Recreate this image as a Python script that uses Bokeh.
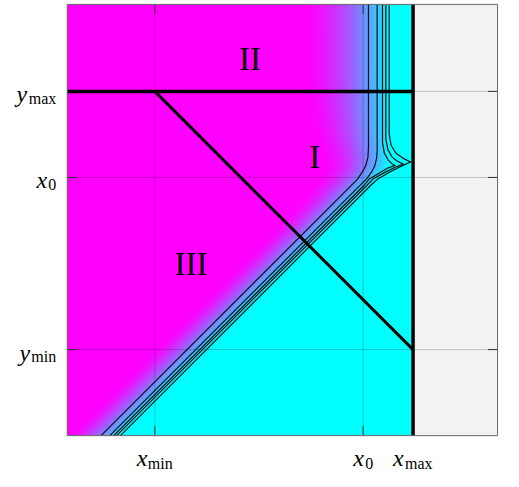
import numpy as np
from bokeh.plotting import figure
from bokeh.models import Label
from bokeh.embed import file_html
from bokeh.resources import INLINE

# ---- tick positions (data units, x0 = 0) ----
x_ticks = [-2.42, 0.0, 0.58]            # x_min, x0, x_max
x_tick_names = [("x", "min"), ("x", "0"), ("x", "max")]
y_ticks = [1.0, 0.0, -2.0]              # y_max, x0, y_min
y_tick_names = [("y", "max"), ("x", "0"), ("y", "min")]

x_min, x_0, x_max = x_ticks
y_max, _, y_min = y_ticks

# ---- plot box (data units) ----
X_LO, X_HI = -3.438, 1.562
Y_LO, Y_HI = -3.0, 2.011

# ---- contour lines ----
cA_x = [0.062, 0.062, 0.056, 0.034, 0.000, -0.067, -3.045]
cA_y = [Y_HI, 0.348, 0.236, 0.146, 0.079, -0.022, Y_LO]
cB_x = [0.163, 0.163, 0.157, 0.135, 0.101, 0.045, -2.944]
cB_y = [Y_HI, 0.315, 0.225, 0.135, 0.067, -0.011, Y_LO]
cC_x = [0.225, 0.225, 0.247, 0.292, 0.331, 0.371, 0.281, 0.180, 0.067, 0.011, -2.899]
cC_y = [Y_HI, 0.404, 0.281, 0.202, 0.163, 0.140, 0.107, 0.045, -0.022, -0.090, Y_LO]
cD_x = [0.264, 0.264, 0.287, 0.337, 0.393, 0.466, 0.371, 0.247, 0.124, 0.056, -2.865]
cD_y = [Y_HI, 0.449, 0.326, 0.236, 0.191, 0.157, 0.118, 0.056, -0.011, -0.079, Y_LO]
cE_x = [0.303, 0.303, 0.326, 0.382, 0.461, 0.551, 0.449, 0.315, 0.180, 0.101, -2.820]
cE_y = [Y_HI, 0.506, 0.371, 0.281, 0.225, 0.180, 0.135, 0.067, -0.011, -0.079, Y_LO]

# ---- region labels ----
region_names = ["II", "I", "III"]
region_x = [-1.315, -0.562, -2.0]
region_y = [1.382, 0.236, -1.0]

# ---- canvas: the whole figure is the frame, so that tick labels are not clipped ----
# 503 x 471 keeps the page (with its 8px margins) inside the 519 x 487 window
W, H = 503, 471
S = 0.967                 # overall scale so that everything fits
PX = 89.0 * S             # pixels per data unit
X0_PX, Y0_PX = S * 375, S * 183   # canvas position of the data origin
CX_LO, CX_HI = -X0_PX / PX, (W - X0_PX) / PX
CY_HI, CY_LO = Y0_PX / PX, (Y0_PX - H) / PX

p = figure(width=W, height=H, x_range=(CX_LO, CX_HI), y_range=(CY_LO, CY_HI),
           x_axis_location=None, y_axis_location=None,
           toolbar_location=None, output_backend="svg",
           min_border=0, min_border_left=0, min_border_right=0,
           min_border_top=0, min_border_bottom=0)
p.grid.visible = False
p.background_fill_color = "white"
p.border_fill_color = "white"
p.outline_line_color = None

# gray region beyond x_max
p.quad(left=[x_max], right=[X_HI], bottom=[Y_LO], top=[Y_HI],
       fill_color="#f2f2f2", line_color=None)

# ---- colour field (magenta -> cyan across the contour band) ----
nx = int(round((x_max - X_LO) * PX))
ny = int(round((Y_HI - Y_LO) * PX))
gx = X_LO + (np.arange(nx) + 0.5) * (x_max - X_LO) / nx
gy = Y_LO + (np.arange(ny) + 0.5) * (Y_HI - Y_LO) / ny
XX, YY = np.meshgrid(gx, gy)
diag_off = cE_x[-1] - cE_y[-1]
top_edge = cE_x[0]
k = 0.04
edge = -k * np.logaddexp(-(YY + diag_off) / k, -top_edge / k)
D = edge - XX
Wd = 0.62 + 0.38 / (1 + np.exp(-(YY - 0.3) / 0.25))
u = np.clip(1 - D / Wd, 0, 1)
t = u ** 1.6
img = np.empty((ny, nx), dtype=np.uint32)
view = img.view(dtype=np.uint8).reshape((ny, nx, 4))
view[:, :, 0] = np.round(255 * (1 - t)).astype(np.uint8)
view[:, :, 1] = np.round(255 * t).astype(np.uint8)
view[:, :, 2] = 255
view[:, :, 3] = 255
p.image_rgba(image=[img], x=X_LO, y=Y_LO, dw=x_max - X_LO, dh=Y_HI - Y_LO)

# ---- contour lines ----
p.multi_line(xs=[cA_x, cB_x, cC_x, cD_x, cE_x], ys=[cA_y, cB_y, cC_y, cD_y, cE_y],
             line_color="#111111", line_width=1.2, line_join="round")

# ---- gridlines (inside the box only) ----
nxt, nyt = len(x_ticks), len(y_ticks)
p.segment(x0=x_ticks, y0=[Y_LO] * nxt, x1=x_ticks, y1=[Y_HI] * nxt,
          line_color="black", line_alpha=0.2, line_width=1)
p.segment(x0=[X_LO] * nyt, y0=y_ticks, x1=[X_HI] * nyt, y1=y_ticks,
          line_color="black", line_alpha=0.2, line_width=1)

# ---- ticks (inward, all four sides) ----
tl = 10 / 89.0
tick_col = "#333333"
p.segment(x0=x_ticks, y0=[Y_LO] * nxt, x1=x_ticks, y1=[Y_LO + tl] * nxt, line_color=tick_col, line_width=1)
p.segment(x0=x_ticks, y0=[Y_HI] * nxt, x1=x_ticks, y1=[Y_HI - tl] * nxt, line_color=tick_col, line_width=1)
p.segment(x0=[X_LO] * nyt, y0=y_ticks, x1=[X_LO + tl] * nyt, y1=y_ticks, line_color=tick_col, line_width=1)
p.segment(x0=[X_HI] * nyt, y0=y_ticks, x1=[X_HI - tl] * nyt, y1=y_ticks, line_color=tick_col, line_width=1)

# ---- thick boundary lines ----
p.line([X_LO, x_max], [y_max, y_max], line_color="black", line_width=3.5)
p.line([x_max, x_max], [Y_LO, Y_HI], line_color="black", line_width=3.5)
p.line([x_min, x_max], [y_max, y_min], line_color="black", line_width=3)

# ---- box outline ----
p.quad(left=[X_LO], right=[X_HI], bottom=[Y_LO], top=[Y_HI],
       fill_color=None, line_color="#666666", line_width=1)

# ---- region labels ----
SERIF = "Liberation Serif"
for name, rx, ry in zip(region_names, region_x, region_y):
    p.add_layout(Label(x=rx, y=ry, text=name, text_font=SERIF, text_font_size="33px",
                       text_align="center", text_baseline="alphabetic", text_color="black"))

# ---- tick labels: italic letter + upright subscript ----
MAIN_FS, SUB_FS = 24, 16
adv = {"m": 0.778, "i": 0.278, "n": 0.5, "a": 0.444, "x": 0.5, "0": 0.5}
main_w = 0.444 * MAIN_FS


def sub_w(s):
    return sum(adv[c] for c in s) * SUB_FS


for v, (mn, sb) in zip(x_ticks, x_tick_names):
    total = main_w + 1 + sub_w(sb)
    start = round(-total / 2)
    split = round(-total / 2 + main_w + 1)
    p.add_layout(Label(x=v, y=Y_LO, text=mn, text_font=SERIF, text_font_style="italic",
                       text_font_size=f"{MAIN_FS}px", text_align="left", text_baseline="alphabetic",
                       x_offset=start, y_offset=-22, text_color="black"))
    p.add_layout(Label(x=v, y=Y_LO, text=sb, text_font=SERIF,
                       text_font_size=f"{SUB_FS}px", text_align="left", text_baseline="alphabetic",
                       x_offset=split, y_offset=-28, text_color="black"))

for v, (mn, sb) in zip(y_ticks, y_tick_names):
    gap = 11
    p.add_layout(Label(x=X_LO, y=v, text=sb, text_font=SERIF,
                       text_font_size=f"{SUB_FS}px", text_align="right", text_baseline="alphabetic",
                       x_offset=-gap, y_offset=-7, text_color="black"))
    p.add_layout(Label(x=X_LO, y=v, text=mn, text_font=SERIF, text_font_style="italic",
                       text_font_size=f"{MAIN_FS}px", text_align="right", text_baseline="alphabetic",
                       x_offset=round(-gap - sub_w(sb) - 1), y_offset=-3, text_color="black"))

open("out.html", "w").write(file_html(p, INLINE))
